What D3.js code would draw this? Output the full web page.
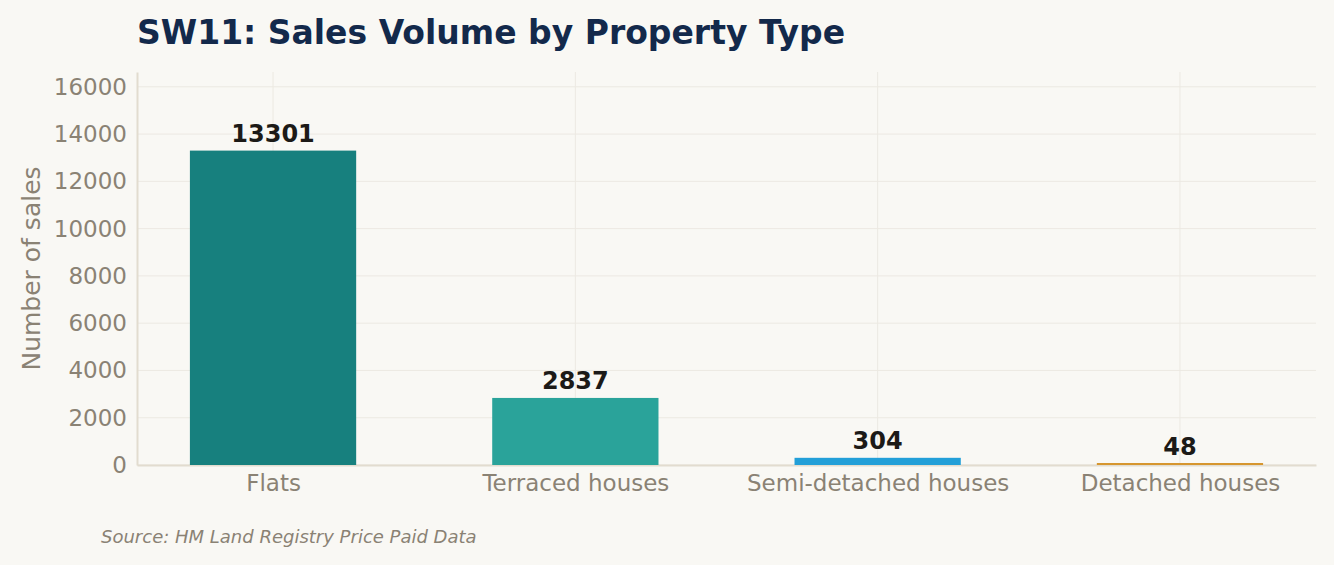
<!DOCTYPE html>
<html>
<head>
<meta charset="utf-8">
<script src="https://cdn.jsdelivr.net/npm/d3@7"></script>
<style>
  body { margin: 0; background: #f9f8f4; }
  svg { display: block; font-family: "DejaVu Sans", sans-serif; }
</style>
</head>
<body>
<div id="chart"></div>
<script>
// data
const categories = ["Flats", "Terraced houses", "Semi-detached houses", "Detached houses"];
const sales = [13301, 2837, 304, 48];
const barColors = ["#17807e", "#2aa39a", "#229fd8", "#d6962f"];
const yTicks = [0, 2000, 4000, 6000, 8000, 10000, 12000, 14000, 16000];

const W = 1334, H = 565;
const margin = { top: 72, right: 18, bottom: 100, left: 137 };
const width = W - margin.left - margin.right,
  height = H - margin.top - margin.bottom;

const svg = d3.select("#chart").append("svg")
  .attr("width", W).attr("height", H);
svg.append("rect").attr("width", W).attr("height", H).attr("fill", "#f9f8f4");

const g = svg.append("g")
  .attr("transform", "translate(" + margin.left + "," + margin.top + ")");

// bars sit at 0..3, axis runs -0.45..3.45 like the original
const x = d3.scaleLinear().domain([-0.45, categories.length - 0.55]).range([0, width]);
const barW = x(0.55) - x(0);
const y = d3.scaleLinear().domain([0, d3.max(sales) * 1.25]).range([height, 0]);

// grid
g.append("g").selectAll("line.h").data(yTicks).join("line")
  .attr("x1", 0).attr("x2", width)
  .attr("y1", d => y(d)).attr("y2", d => y(d))
  .attr("stroke", "#ece9e2").attr("stroke-width", 1);
g.append("g").selectAll("line.v").data(categories).join("line")
  .attr("x1", (d, i) => x(i)).attr("x2", (d, i) => x(i))
  .attr("y1", 0).attr("y2", height)
  .attr("stroke", "#ece9e2").attr("stroke-width", 1);

// axes (drawn under the bars)
const yAxis = g.append("g").call(d3.axisLeft(y).tickValues(yTicks)
  .tickFormat(d3.format("d")).tickSize(0).tickPadding(10));
const xAxis = g.append("g").attr("transform", "translate(0," + height + ")")
  .call(d3.axisBottom(x).tickValues(d3.range(categories.length))
    .tickFormat(i => categories[i]).tickSize(0).tickPadding(6));
[yAxis, xAxis].forEach(a => {
  a.select(".domain").attr("stroke", "#e2dccf").attr("stroke-width", 2);
  a.selectAll("text").attr("font-size", 23).attr("fill", "#8a8274")
    .attr("font-family", "DejaVu Sans, sans-serif");
});
xAxis.selectAll("text").attr("dy", "0.85em");

// bars
g.selectAll("rect.bar").data(sales).join("rect")
  .attr("class", "bar")
  .attr("x", (d, i) => x(i) - barW / 2)
  .attr("width", barW)
  .attr("y", d => Math.min(y(d), height - 2))
  .attr("height", d => Math.max(height - y(d), 2))
  .attr("fill", (d, i) => barColors[i]);

// value labels
g.selectAll("text.val").data(sales).join("text")
  .attr("x", (d, i) => x(i))
  .attr("y", d => y(d) - 9)
  .attr("text-anchor", "middle")
  .attr("font-size", 24).attr("font-weight", "bold")
  .attr("fill", "#1c1a17")
  .text(d => d);

// titles
svg.append("text").attr("x", 137).attr("y", 44)
  .attr("font-size", 33).attr("font-weight", "bold").attr("fill", "#13294b")
  .text("SW11: Sales Volume by Property Type");

svg.append("text")
  .attr("transform", "translate(40," + (margin.top + height / 2) + ") rotate(-90)")
  .attr("text-anchor", "middle")
  .attr("font-size", 25).attr("fill", "#8a8274")
  .text("Number of sales");

svg.append("text").attr("x", 101).attr("y", 543)
  .attr("font-size", 18).attr("font-style", "italic").attr("fill", "#8a8274")
  .text("Source: HM Land Registry Price Paid Data");
</script>
</body>
</html>
